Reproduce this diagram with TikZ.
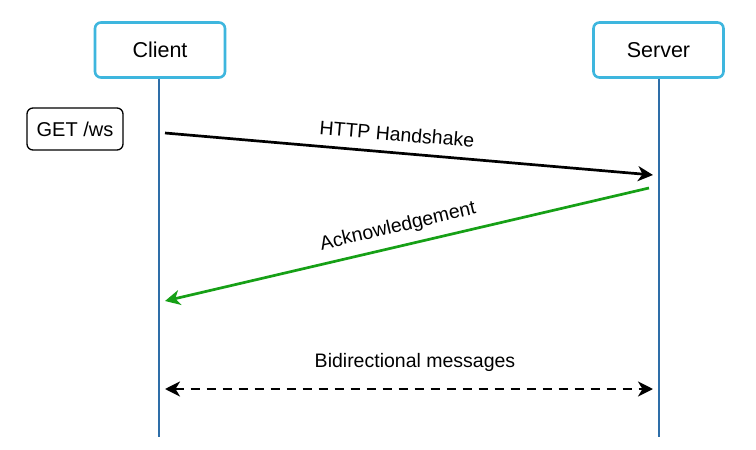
\documentclass[tikz,border=0pt]{standalone}
\usepackage{fontspec}
\setmainfont{Liberation Sans}
\usetikzlibrary{arrows.meta}
\definecolor{boxblue}{RGB}{62,182,222}
\definecolor{lifeblue}{RGB}{46,110,168}
\definecolor{ackgreen}{RGB}{22,160,22}
\begin{document}
\begin{tikzpicture}[x=1pt,y=-1pt,
  actor/.style={draw=boxblue,line width=2.6pt,rounded corners=6pt,fill=white,minimum width=130pt,minimum height=55pt,font=\fontsize{21.5}{25}\selectfont},
  note/.style={draw=black,line width=1.3pt,rounded corners=6pt,minimum width=96pt,minimum height=42pt,font=\fontsize{20}{24}\selectfont},
  life/.style={draw=lifeblue,line width=2.4pt},
  tip/.style={Stealth[length=15pt,width=15pt,inset=4.5pt]},
  msg/.style={line width=2.7pt,-{Stealth[length=15pt,width=15pt,inset=4.5pt]}},
  lbl/.style={font=\fontsize{19.5}{23}\selectfont,inner sep=0pt}]
\useasboundingbox (0,0) rectangle (756,450);
\fill[white] (0,0) rectangle (756,450);
\node[actor] (client) at (160,50) {Client};
\node[actor] (server) at (658.5,50) {Server};
\coordinate (cend) at (159,437);
\coordinate (send) at (659,437);
\draw[life] (client.south -| cend) -- (cend);
\draw[life] (server.south -| send) -- (send);
\node[note] (get) at (75,129) {GET /ws};
\coordinate (h1) at (165,133);
\coordinate (h2) at (653,175);
\coordinate (a1) at (649,188);
\coordinate (a2) at (165,301);
\coordinate (b1) at (165,389);
\coordinate (b2) at (653,389);
\draw[msg,black] (h1) -- (h2);
\draw[msg,ackgreen] (a1) -- (a2);
\draw[line width=2.7pt,dash pattern=on 9pt off 7pt,{Stealth[length=15pt,width=15pt,inset=4.5pt]}-{Stealth[length=15pt,width=15pt,inset=4.5pt]}] (b1) -- (b2);
\node[lbl,rotate=-4.9] (hl) at (397,134) {HTTP Handshake};
\node[lbl,rotate=13.2] (al) at (398,227) {Acknowledgement};
\node[lbl] (bl) at (415,362) {Bidirectional messages};
\end{tikzpicture}
\end{document}
